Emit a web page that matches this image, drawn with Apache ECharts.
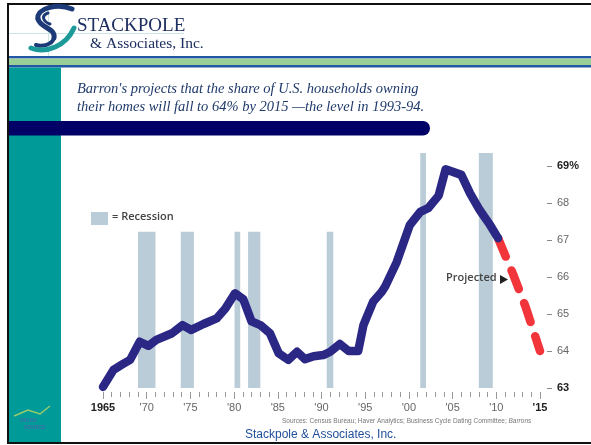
<!DOCTYPE html>
<html>
<head>
<meta charset="utf-8">
<script src="https://cdn.jsdelivr.net/npm/echarts@6/dist/echarts.min.js"></script>
<style>
  html, body { margin: 0; padding: 0; background: #fff; }
  #chart { width: 591px; height: 445px; }
</style>
</head>
<body>
<div id="chart"></div>
<script>
// homeownership rate
const years = [1965, 1966.2, 1967.3, 1968.1, 1969.2, 1970.2, 1971.1, 1972.9, 1974.1, 1975.1, 1976.5, 1978.0, 1979.0, 1980.1, 1981.05, 1982.0, 1983.0, 1984.1, 1985.1, 1986.2, 1987.2, 1988.1, 1989.1, 1990.2, 1991.0, 1992.1, 1993.1, 1994.2, 1994.8, 1995.9, 1996.9, 1997.3, 1998.6, 2000.1, 2001.3, 2002.2, 2003.4, 2004.2, 2006.0, 2007.0, 2008.1, 2009.3, 2010.2]
const ownership = [63.03, 63.49, 63.65, 63.76, 64.25, 64.14, 64.3, 64.48, 64.7, 64.57, 64.73, 64.88, 65.15, 65.56, 65.4, 64.8, 64.7, 64.48, 63.94, 63.76, 63.98, 63.78, 63.86, 63.89, 63.98, 64.19, 64.0, 64.0, 64.7, 65.33, 65.6, 65.75, 66.4, 67.4, 67.76, 67.86, 68.2, 68.91, 68.76, 68.26, 67.81, 67.4, 67.05]

const projYears = [2010.2, 2012.0, 2013.4, 2015]
const projected = [67.05, 66.03, 65.16, 64.0]

const recessionStart = [1969.0, 1973.9, 1980.05, 1981.6, 1990.6, 2001.3, 2008.0]
const recessionEnd = [1971.0, 1975.4, 1980.7, 1983.0, 1991.35, 2001.95, 2009.6]
const recessionTop = [67.22, 67.22, 67.22, 67.22, 67.22, 69.35, 69.35]

const xTickLabels = { 1965: '1965', 1970: "'70", 1975: "'75", 1980: "'80", 1985: "'85", 1990: "'90", 1995: "'95", 2000: "'00", 2005: "'05", 2010: "'10", 2015: "'15" }
const yTickLabels = { 63: '63', 64: '64', 65: '65', 66: '66', 67: '67', 68: '68', 69: '69%' }

const lineData = years.map((y, i) => [y, ownership[i]])
const projData = projYears.map((y, i) => [y, projected[i]])
const recData = recessionStart.map((s, i) => [s, recessionEnd[i], recessionTop[i]])

const navy = '#2b2785'
const sans = 'Liberation Sans'

// logo strokes
const curve = (p, color, w) => ({
  type: 'bezierCurve',
  shape: { x1: p[0], y1: p[1], cpx1: p[2], cpy1: p[3], cpx2: p[4], cpy2: p[5], x2: p[6], y2: p[7] },
  style: { stroke: color, lineWidth: w, fill: null, lineCap: 'round' }
})

const mycharts = echarts.init(document.getElementById('chart'))
mycharts.setOption({
  animation: false,
  backgroundColor: '#fff',
  grid: { left: 103, right: 51, top: 166, bottom: 57 },
  xAxis: {
    type: 'value',
    min: 1965,
    max: 2015,
    interval: 5,
    offset: 4,
    axisLine: { show: false },
    splitLine: { show: false },
    axisTick: { show: true, length: 7, lineStyle: { color: '#9a9a9a', width: 1 } },
    minorTick: { show: true, splitNumber: 5, length: 5, lineStyle: { color: '#9a9a9a', width: 1 } },
    axisLabel: {
      margin: 10,
      fontFamily: sans,
      fontSize: 11,
      color: '#666',
      formatter: v => (v === 1965 || v === 2015) ? '{b|' + xTickLabels[v] + '}' : xTickLabels[v],
      rich: { b: { fontFamily: sans, fontSize: 11, fontWeight: 'bold', color: '#222' } }
    }
  },
  yAxis: {
    type: 'value',
    position: 'right',
    min: 63,
    max: 69,
    interval: 1,
    offset: 7,
    axisLine: { show: false },
    splitLine: { show: false },
    axisTick: { show: true, length: 5, lineStyle: { color: '#888', width: 1 } },
    axisLabel: {
      margin: 10,
      fontFamily: sans,
      fontSize: 11,
      color: '#666',
      formatter: v => (v === 63 || v === 69) ? '{b|' + yTickLabels[v] + '}' : yTickLabels[v],
      rich: { b: { fontFamily: sans, fontSize: 11, fontWeight: 'bold', color: '#222' } }
    }
  },
  series: [
    {
      type: 'custom',
      name: 'Recession',
      clip: false,
      z: 1,
      data: recData,
      renderItem: (params, api) => {
        const p1 = api.coord([api.value(0), api.value(2)])
        const p2 = api.coord([api.value(1), 63])
        return {
          type: 'rect',
          shape: { x: p1[0], y: p1[1], width: p2[0] - p1[0], height: p2[1] - p1[1] },
          style: { fill: '#b9ccd7' }
        }
      }
    },
    {
      type: 'line',
      name: 'Projected',
      clip: false,
      z: 3,
      data: projData,
      symbol: 'none',
      lineStyle: { color: '#f2343b', width: 8.5, type: [20, 15], cap: 'round', join: 'round' }
    },
    {
      type: 'line',
      name: 'Homeownership',
      clip: false,
      z: 4,
      data: lineData,
      symbol: 'none',
      lineStyle: { color: navy, width: 8.5, cap: 'round', join: 'round' }
    }
  ],
  graphic: [
    // page frame
    { type: 'rect', shape: { x: 7, y: 3, width: 584, height: 2 }, style: { fill: '#111' } },
    { type: 'rect', shape: { x: 7, y: 3, width: 2, height: 441 }, style: { fill: '#111' } },
    { type: 'rect', shape: { x: 7, y: 442, width: 584, height: 2 }, style: { fill: '#111' } },
    // header grid lines
    { type: 'rect', shape: { x: 9, y: 33, width: 175, height: 1 }, style: { fill: '#cfe6e6' } },
    { type: 'rect', shape: { x: 48, y: 5, width: 1, height: 51 }, style: { fill: '#cfe6e6' } },
    // logo swirl
    curve([72, 9, 58, 3, 36, 8, 38, 19], '#1d3a78', 5),
    curve([38, 19, 40, 28, 56, 28, 54, 38], '#1d3a78', 5),
    curve([54, 38, 52, 45, 42, 47, 36, 45], '#1d3a78', 4),
    curve([48, 13, 40, 16, 44, 22, 50, 24], '#1d3a78', 3),
    curve([31, 48, 46, 54, 66, 46, 74, 28], '#1c9a9a', 5),
    { type: 'text', left: 77, top: 17, style: { text: 'STACKPOLE', font: '19px "Liberation Serif"', fill: '#1d2f60' } },
    { type: 'text', left: 90, top: 36, style: { text: '& Associates, Inc.', font: '15.5px "Liberation Serif"', fill: '#1d2f60' } },
    // header bands
    { type: 'rect', shape: { x: 9, y: 56, width: 582, height: 2.5 }, style: { fill: '#2357a6' } },
    { type: 'rect', shape: { x: 9, y: 58.5, width: 582, height: 6.5 }, style: { fill: '#9bcf98' } },
    { type: 'rect', shape: { x: 9, y: 65, width: 582, height: 2.5 }, style: { fill: '#2357a6' } },
    // sidebar
    { type: 'rect', shape: { x: 9, y: 67.5, width: 52, height: 374.5 }, style: { fill: '#009a98' } },
    { type: 'text', left: 20, top: 418, style: { text: 'SALES', font: 'bold 5px "Liberation Sans"', fill: '#3f6fa8' } },
    { type: 'text', left: 24, top: 425, style: { text: 'SOURCE', font: 'bold 5px "Liberation Sans"', fill: '#3f6fa8' } },
    { type: 'polyline', shape: { points: [[14, 416], [28, 410], [40, 414], [50, 406]] }, style: { stroke: '#9acb6a', lineWidth: 1.5, fill: null } },
    // title
    { type: 'text', left: 77, top: 82, style: { text: "Barron's projects that the share of U.S. households owning", font: 'italic 14.5px "Liberation Serif"', fill: '#1f3a6a' } },
    { type: 'text', left: 77, top: 100, style: { text: 'their homes will fall to 64% by 2015 \u2014the level in 1993-94.', font: 'italic 14.5px "Liberation Serif"', fill: '#1f3a6a' } },
    { type: 'rect', shape: { x: 9, y: 121, width: 421, height: 14.5, r: [0, 7, 7, 0] }, style: { fill: '#000066' } },
    // legend
    { type: 'rect', z: 10, shape: { x: 91, y: 212, width: 17, height: 13 }, style: { fill: '#b9ccd7' } },
    { type: 'text', z: 10, left: 112, top: 211, style: { text: '= Recession', font: '600 11px "Open Sans"', fill: '#444' } },
    // projected note
    { type: 'text', z: 10, left: 446, top: 272, style: { text: 'Projected', font: '600 11px "Open Sans"', fill: '#444' } },
    { type: 'polygon', z: 10, shape: { points: [[500, 275], [500, 284], [508, 279.5]] }, style: { fill: '#222' } },
    // sources
    { type: 'text', left: 282, top: 418, style: { rich: { a: { font: '6.5px "Liberation Sans"', fill: '#777' }, i: { font: 'italic 6.5px "Liberation Sans"', fill: '#777' } }, text: '{a|Sources: Census Bureau; Haver Analytics; Business Cycle Dating Committee; }{i|Barrons}' } },
    { type: 'text', left: 245, top: 429, style: { text: 'Stackpole & Associates, Inc.', font: '12px "Liberation Sans"', fill: '#1f4e9a' } }
  ]
})
</script>
</body>
</html>
